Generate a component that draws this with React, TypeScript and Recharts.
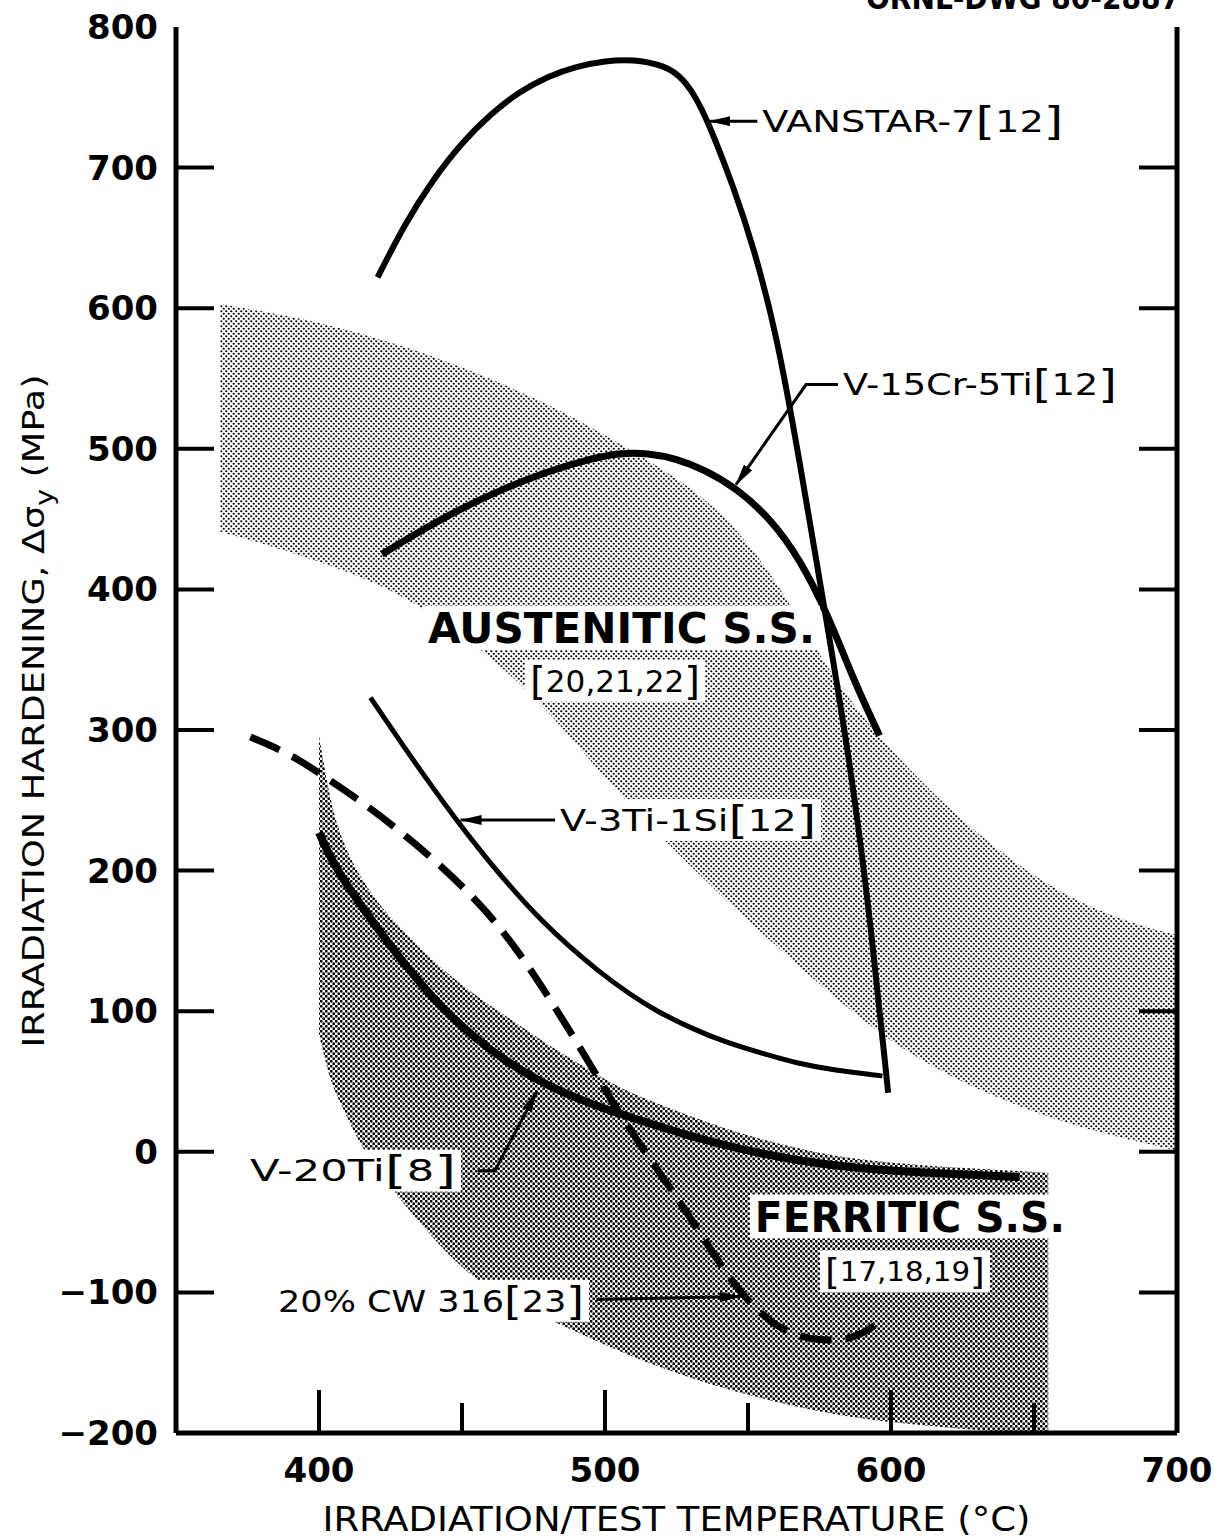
import React from 'react';
import { ComposedChart, Line, Area, XAxis, YAxis, ReferenceDot } from 'recharts';

// ---------------- data (temperature °C, hardening MPa) ----------------
const vanstarTemp = [420.5, 430, 440, 450, 460, 470, 480, 490, 500, 510, 520, 526, 531, 536, 545, 552, 560, 568, 577, 585, 592, 599];
const vanstarHard = [622, 660, 692, 718, 738, 754, 765, 772, 776, 777, 773, 766, 753, 733, 686, 643, 582, 492, 383, 286, 180, 42];

const v15CrTemp = [422, 435, 450, 465, 480, 495, 505, 515, 525, 535, 546, 558, 568, 578, 587, 596];
const v15CrHard = [425, 441, 458, 472, 484, 493, 497, 497, 493, 485, 472, 450, 422, 382, 335, 296];

const v3TiTemp = [418, 428, 438, 448, 458, 468, 478, 488, 498, 508, 518, 530, 542, 555, 567, 580, 597];
const v3TiHard = [323, 293, 264, 236, 210, 186, 164, 145, 128, 113, 100, 88, 78, 70, 63, 58, 54];

const v20TiTemp = [400, 405, 411, 420, 430, 442, 455, 465, 477, 490, 502, 516, 530, 545, 566, 585, 603, 625, 645];
const v20TiHard = [227, 205, 186, 160, 133, 104, 80, 65, 50, 38, 29, 20, 11, 3, -6, -11, -14, -16, -18];

const cw316Temp = [376, 390, 401, 415, 429, 443, 457, 469, 481, 494, 505, 516, 525, 533, 541, 548, 558, 567, 575, 583, 590, 598];
const cw316Hard = [295, 283, 268, 249, 227, 203, 175, 145, 108, 65, 27, -6, -32, -57, -82, -102, -122, -131, -134, -134, -130, -118];

const austTemp = [365.5, 380, 400, 420, 440, 460, 480, 500, 520, 540, 560, 580, 600, 620, 640, 660, 680, 700];
const austUpper = [603, 598, 590, 579, 566, 550, 532, 510, 486, 458, 408, 334, 285, 244, 210, 183, 165, 154];
const austLower = [441, 433, 420, 405, 383, 352, 315, 265, 223, 183, 146, 110, 78, 54, 36, 21, 10, 1];

const ferrTemp = [400, 404, 408, 413, 420, 428, 440, 452, 465, 480, 489, 505, 520, 533, 550, 572, 590, 613, 630, 648, 655];
const ferrUpper = [296, 248, 222, 200, 178, 160, 135, 115, 97, 76, 65, 45, 33, 23, 11, 0, -6, -10, -12, -14, -15];
const ferrLower = [84, 49, 33, 10, -12, -33, -62, -87, -104, -119, -127, -142, -154, -163, -173, -184, -190, -195, -198, -200, -200];

// leader lines (label -> curve)
const leadVanstarT = [553.5, 536.5];
const leadVanstarH = [733, 733];
const leadV15T = [582, 570.3, 545.8];
const leadV15H = [545.7, 545.7, 474.5];
const leadV3T = [483.3, 449.5];
const leadV3H = [236, 236];
const leadV20T = [455.5, 461.5, 476.2];
const leadV20H = [-13.4, -13.4, 43];
const leadCwT = [497, 547.5];
const leadCwH = [-105, -103];

// tick values
const xTicks = [350, 400, 450, 500, 550, 600, 650, 700];
const yTicks = [-200, -100, 0, 100, 200, 300, 400, 500, 600, 700, 800];

// annotation texts and their anchor (left edge / vertical centre) in data units
const annotations = [
  { text: 'VANSTAR-7[12]', t: 555, h: 733, width: 301, size: 30, bold: false },
  { text: 'V-15Cr-5Ti[12]', t: 583.2, h: 545.7, width: 274, size: 30, bold: false },
  { text: 'AUSTENITIC S.S.', t: 438.1, h: 372.6, width: 387, size: 43, bold: true },
  { text: '[20,21,22]', t: 473.8, h: 335, width: 170, size: 30, bold: false },
  { text: 'V-3Ti-1Si[12]', t: 484.3, h: 236, width: 256, size: 30, bold: false },
  { text: 'V-20Ti[8]', t: 375.9, h: -13.4, width: 206, size: 30, bold: false },
  { text: 'FERRITIC S.S.', t: 552.4, h: -46, width: 310, size: 42, bold: true },
  { text: '[17,18,19]', t: 576.9, h: -85, width: 160, size: 27, bold: false },
  { text: '20% CW 316[23]', t: 385.7, h: -106, width: 306, size: 30, bold: false },
];

// ---------------- helpers ----------------
const pts = (t: number[], h: number[]) => t.map((v, i) => ({ t: v, h: h[i] }));
const band = (t: number[], lo: number[], hi: number[]) => t.map((v, i) => ({ t: v, r: [lo[i], hi[i]] }));

const FONT = "'DejaVu Sans', 'Liberation Sans', sans-serif";

const vanstarData = pts(vanstarTemp, vanstarHard);
const v15CrData = pts(v15CrTemp, v15CrHard);
const v3TiData = pts(v3TiTemp, v3TiHard);
const v20TiData = pts(v20TiTemp, v20TiHard);
const cw316Data = pts(cw316Temp, cw316Hard);
const austData = band(austTemp, austLower, austUpper);
const ferrData = band(ferrTemp, ferrLower, ferrUpper);

const leaders = [
  pts(leadVanstarT, leadVanstarH),
  pts(leadV15T, leadV15H),
  pts(leadV3T, leadV3H),
  pts(leadV20T, leadV20H),
  pts(leadCwT, leadCwH),
];

function TagText(props: any) {
  const { x, cy, text, width, size, bold } = props;
  const segs = text.split(/([\[\]])/).filter((s: string) => s !== '');
  const base = cy + size * 0.36;
  let cur = 0;
  const children = segs.map((s: string, i: number) => {
    const isBr = s === '[' || s === ']';
    const want = isBr ? size * 0.1 : 0;
    const dy = want - cur;
    cur = want;
    return (
      <tspan key={i} dy={dy} fontSize={isBr ? size * 1.3 : size} fontWeight={isBr ? 'normal' : bold ? 'bold' : 'normal'}>
        {s}
      </tspan>
    );
  });
  const hh = bold ? 22 : 21;
  return (
    <g>
      <rect x={x - 5} y={cy - hh} width={width + 10} height={hh * 2} fill="#fff" />
      <text x={x} y={base} fontFamily={FONT} fontSize={size} fill="#000" textLength={width} lengthAdjust="spacingAndGlyphs">
        {children}
      </text>
    </g>
  );
}

const BottomTick = (p: any) => {
  const { x, y, payload } = p;
  const v = payload.value;
  const major = v % 100 === 0;
  return (
    <g>
      {v > 350 && v < 700 && <line x1={x} x2={x} y1={y} y2={y - (major ? 43 : 30)} stroke="#000" strokeWidth={4} />}
      {major && v > 350 && (
        <text x={x} y={y + 49} textAnchor="middle" fontFamily={FONT} fontWeight="bold" fontSize={34} fill="#000">
          {v}
        </text>
      )}
    </g>
  );
};

const TopTick = (p: any) => {
  const { x, y, payload } = p;
  const v = payload.value;
  const major = v % 100 === 0;
  if (v <= 350 || v >= 700) return <g />;
  return <line x1={x} x2={x} y1={y} y2={y + (major ? 40 : 26)} stroke="#000" strokeWidth={4} />;
};

const LeftTick = (p: any) => {
  const { x, y, payload } = p;
  const v = payload.value;
  const label = v < 0 ? '\u2212' + Math.abs(v) : String(v);
  return (
    <g>
      {v > -200 && v < 800 && <line x1={x} x2={x + 38} y1={y} y2={y} stroke="#000" strokeWidth={4} />}
      <text x={x - 18} y={y + 12} textAnchor="end" fontFamily={FONT} fontWeight="bold" fontSize={34} fill="#000">
        {label}
      </text>
    </g>
  );
};

const RightTick = (p: any) => {
  const { x, y, payload } = p;
  const v = payload.value;
  if (v <= -200 || v >= 800) return <g />;
  return <line x1={x} x2={x - 38} y1={y} y2={y} stroke="#000" strokeWidth={4} />;
};

const XTitle = (p: any) => {
  const vb = p.viewBox;
  return (
    <text x={vb.x + vb.width / 2} y={vb.y + 98} textAnchor="middle" fontFamily={FONT} fontSize={33} fill="#000" textLength={708} lengthAdjust="spacingAndGlyphs">
      IRRADIATION/TEST TEMPERATURE (°C)
    </text>
  );
};

const YTitle = (p: any) => {
  const vb = p.viewBox;
  const cx = vb.x + 33;
  const cy = vb.y + 684;
  return (
    <text
      x={cx}
      y={cy + 11}
      transform={`rotate(-90, ${cx}, ${cy})`}
      textAnchor="middle"
      fontFamily={FONT}
      fontSize={31}
      fill="#000"
      textLength={673}
      lengthAdjust="spacingAndGlyphs"
    >
      <tspan>IRRADIATION HARDENING, Δσ</tspan>
      <tspan dy={9} fontSize={24}>y</tspan>
      <tspan dy={-9}> (MPa)</tspan>
    </text>
  );
};

export default function App() {
  return (
    <div style={{ position: 'absolute', left: 0, top: 0, width: 1214, height: 1539, background: '#fff', overflow: 'hidden' }}>
      <ComposedChart width={1214} height={1539} margin={{ top: 27, right: 0, bottom: 0, left: 0 }}>
        <defs>
          <pattern id="austDots" patternUnits="userSpaceOnUse" width="5" height="5">
            <circle cx="1.25" cy="1.25" r="1.1" fill="#000" />
            <circle cx="3.75" cy="3.75" r="1.1" fill="#000" />
          </pattern>
          <pattern id="ferrDots" patternUnits="userSpaceOnUse" width="5" height="5">
            <circle cx="1.25" cy="1.25" r="1.4" fill="#000" />
            <circle cx="3.75" cy="3.75" r="1.4" fill="#000" />
          </pattern>
          <marker id="arrowHead" viewBox="0 0 22 10" refX="21" refY="5" markerWidth="22" markerHeight="10" markerUnits="userSpaceOnUse" orient="auto">
            <path d="M0,0 L22,5 L0,10 z" fill="#000" />
          </marker>
        </defs>

        <XAxis
          xAxisId={0}
          dataKey="t"
          type="number"
          domain={[350, 700]}
          allowDataOverflow
          ticks={xTicks}
          interval={0}
          height={106}
          tickSize={0}
          tickMargin={0}
          tick={BottomTick}
          tickLine={false}
          axisLine={{ stroke: '#000', strokeWidth: 5 }}
          label={XTitle}
        />
        <XAxis
          xAxisId="top"
          dataKey="t"
          orientation="top"
          type="number"
          domain={[350, 700]}
          allowDataOverflow
          ticks={xTicks}
          interval={0}
          height={0}
          tickSize={0}
          tickMargin={0}
          tick={TopTick}
          tickLine={false}
          axisLine={{ stroke: '#000', strokeWidth: 5 }}
        />
        <YAxis
          yAxisId={0}
          type="number"
          domain={[-200, 800]}
          allowDataOverflow
          ticks={yTicks}
          interval={0}
          width={176}
          tickSize={0}
          tickMargin={0}
          tick={LeftTick}
          tickLine={false}
          axisLine={{ stroke: '#000', strokeWidth: 5 }}
          label={YTitle}
        />
        <YAxis
          yAxisId="right"
          orientation="right"
          type="number"
          domain={[-200, 800]}
          allowDataOverflow
          ticks={yTicks}
          interval={0}
          width={37}
          tickSize={0}
          tickMargin={0}
          tick={RightTick}
          tickLine={false}
          axisLine={{ stroke: '#000', strokeWidth: 5 }}
        />

        <Area data={austData} dataKey="r" type="basis" stroke="none" fill="url(#austDots)" fillOpacity={1} isAnimationActive={false} activeDot={false} />
        <Area data={ferrData} dataKey="r" type="basis" stroke="none" fill="url(#ferrDots)" fillOpacity={1} isAnimationActive={false} activeDot={false} />

        <Line data={vanstarData} dataKey="h" type="basis" stroke="#000" strokeWidth={6} dot={false} activeDot={false} isAnimationActive={false} />
        <Line data={v15CrData} dataKey="h" type="basis" stroke="#000" strokeWidth={7} dot={false} activeDot={false} isAnimationActive={false} />
        <Line data={v3TiData} dataKey="h" type="basis" stroke="#000" strokeWidth={5} dot={false} activeDot={false} isAnimationActive={false} />
        <Line data={v20TiData} dataKey="h" type="basis" stroke="#000" strokeWidth={8} dot={false} activeDot={false} isAnimationActive={false} />
        <Line data={cw316Data} dataKey="h" type="basis" stroke="#000" strokeWidth={7} strokeDasharray="32 14" dot={false} activeDot={false} isAnimationActive={false} />

        {leaders.map((d, i) => (
          <Line key={'lead' + i} data={d} dataKey="h" type="linear" stroke="#000" strokeWidth={3} dot={false} activeDot={false} isAnimationActive={false} markerEnd="url(#arrowHead)" />
        ))}

        {annotations.map((a, i) => (
          <ReferenceDot
            key={'ann' + i}
            x={a.t}
            y={a.h}
            r={0}
            isFront
            shape={(p: any) => <TagText x={p.cx} cy={p.cy} text={a.text} width={a.width} size={a.size} bold={a.bold} />}
          />
        ))}
      </ComposedChart>
      <svg width={1214} height={40} style={{ position: 'absolute', left: 0, top: 0 }}>
        <text x={1180} y={9} textAnchor="end" fontFamily={FONT} fontWeight="bold" fontSize={32} fill="#000" textLength={314} lengthAdjust="spacingAndGlyphs">
          ORNL-DWG 80-2887
        </text>
      </svg>
    </div>
  );
}
